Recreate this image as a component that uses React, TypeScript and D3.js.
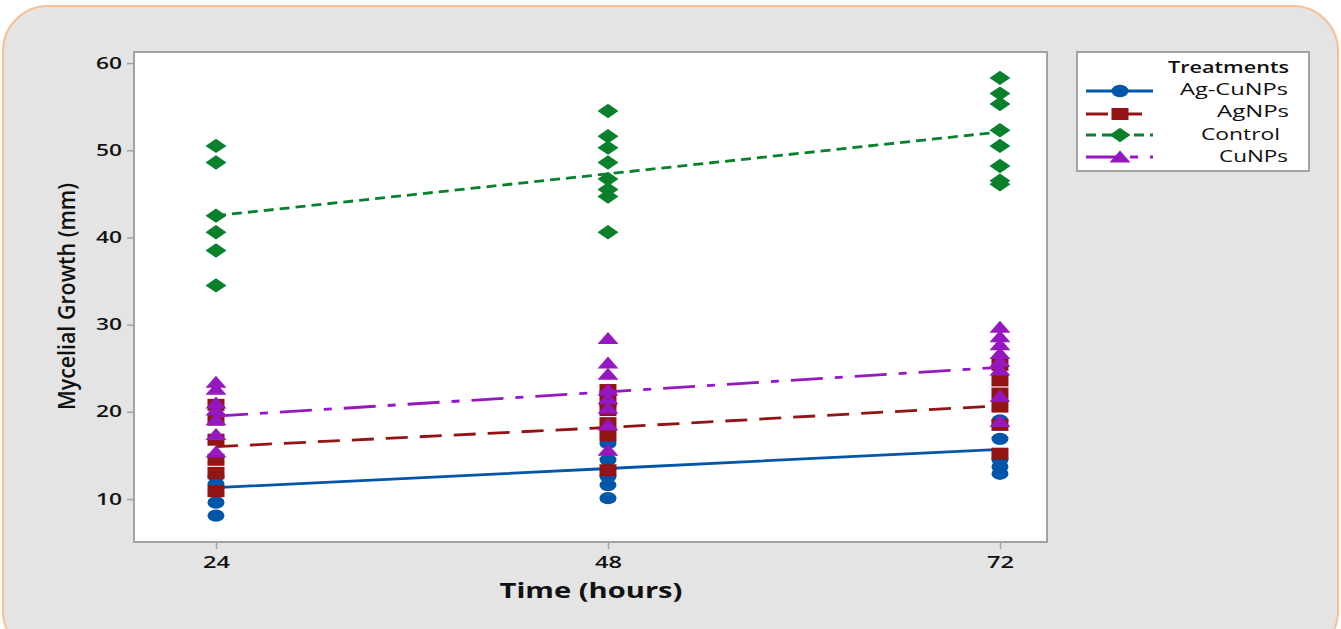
import React, { useRef, useEffect } from 'react';
import * as d3 from 'd3';

// time points (hours)
const times = [24, 48, 72];

// individual replicate readings (mm) per time point
const agCuNPsPoints = [
    [12.6, 11.7, 9.6, 8.1],
    [16.4, 14.5, 12.6, 11.6, 10.1],
    [19.0, 16.9, 14.5, 13.7, 12.9],
];
const agNPsPoints = [
    [20.8, 19.1, 16.8, 14.5, 13.0, 10.9],
    [22.5, 21.3, 20.2, 18.7, 17.3, 13.3],
    [25.4, 23.6, 22.1, 20.6, 18.5, 15.2],
];
const controlPoints = [
    [50.5, 48.6, 42.5, 40.6, 38.5, 34.5],
    [54.5, 51.6, 50.3, 48.6, 46.7, 45.5, 44.7, 40.6],
    [58.3, 56.5, 55.3, 52.3, 50.5, 48.2, 46.5, 46.1],
];
const cuNPsPoints = [
    [23.4, 22.6, 21.0, 20.2, 19.1, 17.4, 15.4],
    [28.4, 25.6, 24.3, 22.5, 21.5, 20.4, 18.5, 15.6],
    [29.7, 28.6, 27.7, 26.7, 25.8, 24.8, 21.8, 18.9],
];

// mean lines
const agCuNPsMeans = [11.3, 13.5, 15.7];
const agNPsMeans = [16.0, 18.2, 20.7];
const controlMeans = [42.5, 47.3, 52.1];
const cuNPsMeans = [19.5, 22.3, 25.1];

const seriesNames = ['Ag-CuNPs', 'AgNPs', 'Control', 'CuNPs'];
const yTicks = [10, 20, 30, 40, 50, 60];

const series = [
    { name: seriesNames[0], points: agCuNPsPoints, means: agCuNPsMeans, colour: '#0056a8', dash: null, marker: 'circle' },
    { name: seriesNames[1], points: agNPsPoints, means: agNPsMeans, colour: '#931414', dash: '22,12', marker: 'square' },
    { name: seriesNames[2], points: controlPoints, means: controlMeans, colour: '#08802c', dash: '10,6', marker: 'diamond' },
    { name: seriesNames[3], points: cuNPsPoints, means: cuNPsMeans, colour: '#9417bf', dash: '32,12,8,12', marker: 'triangle' },
];

const markerPath = (type: string) => {
    if (type === 'circle') return 'M-8.5,0A8.5,6.2 0 1,0 8.5,0A8.5,6.2 0 1,0 -8.5,0Z';
    if (type === 'square') return 'M-8.5,-6H8.5V6H-8.5Z';
    if (type === 'diamond') return 'M-10.5,0L0,-7.2L10.5,0L0,7.2Z';
    return 'M-10.5,5.5L0,-6.5L10.5,5.5Z';
};

const FONT = "'Open Sans', 'Noto Sans', sans-serif";

const App = () => {
    const svgRef = useRef<SVGSVGElement | null>(null);

    useEffect(() => {
        if (!svgRef.current) return;
        const svg = d3.select(svgRef.current);
        svg.selectAll('*').remove();

        const plot = { left: 134, top: 52, right: 1047, bottom: 542 };

        const x = d3.scaleLinear().domain([18.98, 74.88]).range([plot.left, plot.right]);
        const y = d3.scaleLinear().domain([5.07, 61.27]).range([plot.bottom, plot.top]);

        // outer panel
        svg.append('rect')
            .attr('x', 3).attr('y', 6)
            .attr('width', 1335).attr('height', 650)
            .attr('rx', 45).attr('ry', 45)
            .attr('fill', '#e4e4e4')
            .attr('stroke', '#f7c197')
            .attr('stroke-width', 2);

        // plot area
        svg.append('rect')
            .attr('x', plot.left).attr('y', plot.top)
            .attr('width', plot.right - plot.left).attr('height', plot.bottom - plot.top)
            .attr('fill', 'white')
            .attr('stroke', '#a3a3a3')
            .attr('stroke-width', 2);

        // y axis
        const yAxis = svg.append('g')
            .attr('transform', `translate(${plot.left},0)`)
            .call(d3.axisLeft(y).tickValues(yTicks).tickSize(7).tickPadding(5).tickFormat(d3.format('d')));
        yAxis.select('.domain').remove();
        yAxis.selectAll('line').attr('stroke', '#a3a3a3').attr('stroke-width', 1.5);
        yAxis.selectAll('text')
            .attr('fill', '#111')
            .style('font-family', FONT)
            .style('font-weight', 600)
            .style('font-size', '16px')
            .attr('textLength', 26)
            .attr('lengthAdjust', 'spacingAndGlyphs');

        // x axis
        const xAxis = svg.append('g')
            .attr('transform', `translate(0,${plot.bottom})`)
            .call(d3.axisBottom(x).tickValues(times).tickSize(7).tickPadding(8).tickFormat(d3.format('d')));
        xAxis.select('.domain').remove();
        xAxis.selectAll('line').attr('stroke', '#a3a3a3').attr('stroke-width', 1.5);
        xAxis.selectAll('text')
            .attr('fill', '#111')
            .style('font-family', FONT)
            .style('font-weight', 600)
            .style('font-size', '16px')
            .attr('textLength', 27)
            .attr('lengthAdjust', 'spacingAndGlyphs');

        // axis titles
        svg.append('text')
            .attr('x', 591).attr('y', 598)
            .attr('text-anchor', 'middle')
            .style('font-family', FONT)
            .style('font-weight', 700)
            .style('font-size', '22px')
            .attr('fill', '#111')
            .attr('textLength', 183)
            .attr('lengthAdjust', 'spacingAndGlyphs')
            .text('Time (hours)');

        svg.append('text')
            .attr('transform', 'translate(75,296.5) rotate(-90)')
            .attr('text-anchor', 'middle')
            .style('font-family', FONT)
            .style('font-weight', 600)
            .style('font-size', '24px')
            .attr('fill', '#111')
            .attr('textLength', 227)
            .attr('lengthAdjust', 'spacingAndGlyphs')
            .text('Mycelial Growth (mm)');

        // series: points then mean line
        const line = d3.line<number>()
            .x((_, i) => x(times[i]))
            .y(d => y(d));

        series.forEach(s => {
            const g = svg.append('g');
            s.points.forEach((vals, i) => {
                g.selectAll(null)
                    .data(vals)
                    .enter().append('path')
                    .attr('d', markerPath(s.marker))
                    .attr('transform', d => `translate(${x(times[i])},${y(d)})`)
                    .attr('fill', s.colour);
            });
            g.append('path')
                .datum(s.means)
                .attr('d', line)
                .attr('fill', 'none')
                .attr('stroke', s.colour)
                .attr('stroke-width', 2.8)
                .attr('stroke-dasharray', s.dash);
        });

        // legend
        const legend = svg.append('g');
        legend.append('rect')
            .attr('x', 1077).attr('y', 52)
            .attr('width', 232).attr('height', 119)
            .attr('fill', 'white')
            .attr('stroke', '#a3a3a3')
            .attr('stroke-width', 2);

        legend.append('text')
            .attr('x', 1168).attr('y', 73)
            .style('font-family', FONT)
            .style('font-weight', 600)
            .style('font-size', '17px')
            .attr('fill', '#111')
            .attr('textLength', 121)
            .attr('lengthAdjust', 'spacingAndGlyphs')
            .text('Treatments');

        const legendY = [91, 114, 135, 157];
        const legendBaseline = [95, 117, 140, 162];
        const legendTextX = [1180, 1217, 1201, 1219];
        const legendTextW = [108, 72, 79, 69];

        series.forEach((s, i) => {
            legend.append('line')
                .attr('x1', 1086).attr('x2', 1153)
                .attr('y1', legendY[i]).attr('y2', legendY[i])
                .attr('stroke', s.colour)
                .attr('stroke-width', 2.8)
                .attr('stroke-dasharray', s.dash);
            legend.append('path')
                .attr('d', markerPath(s.marker))
                .attr('transform', `translate(1120,${legendY[i]})`)
                .attr('fill', s.colour);
            legend.append('text')
                .attr('x', legendTextX[i]).attr('y', legendBaseline[i])
                .style('font-family', FONT)
                .style('font-weight', 500)
                .style('font-size', '17px')
                .attr('fill', '#111')
                .attr('textLength', legendTextW[i])
                .attr('lengthAdjust', 'spacingAndGlyphs')
                .text(s.name);
        });
    }, []);

    return (
        <svg
            ref={svgRef}
            width={1341}
            height={629}
            style={{ position: 'absolute', left: 0, top: 0, background: 'white' }}
        />
    );
};

export default App;
